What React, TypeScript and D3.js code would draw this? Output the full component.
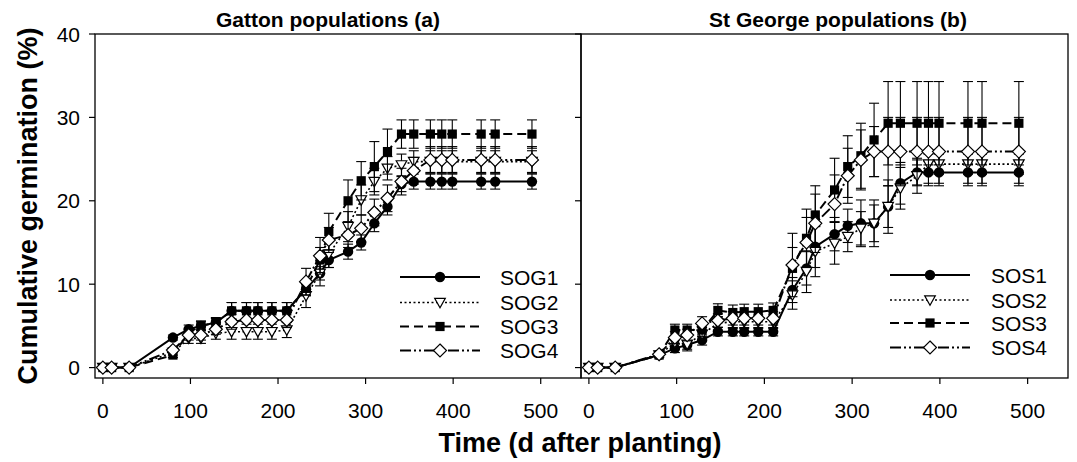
import React from "react";
import * as d3 from "d3";

// Days after planting (shared sampling times)
const times = [0, 10, 30, 80, 98, 112, 129, 147, 164, 177, 193, 210, 232, 248, 258, 280, 295, 310, 325, 341, 355, 374, 387, 399, 432, 448, 490];

// Gatton populations (a)
const SOG1 = [0, 0, 0, 3.6, 4.6, 5.0, 5.4, 6.8, 6.8, 6.8, 6.8, 6.8, 9.4, 11.3, 12.9, 13.9, 15.0, 17.3, 19.3, 22.0, 22.3, 22.3, 22.3, 22.3, 22.3, 22.3, 22.3];
const SOG2 = [0, 0, 0, 1.8, 3.5, 3.5, 4.1, 4.3, 4.3, 4.3, 4.3, 4.5, 8.6, 11.3, 13.6, 16.9, 20.1, 22.3, 23.9, 24.3, 24.7, 24.7, 24.7, 24.7, 24.7, 24.7, 24.7];
const SOG3 = [0, 0, 0, 1.5, 4.2, 5.0, 5.4, 6.8, 6.8, 6.8, 6.8, 6.8, 9.5, 12.9, 16.3, 20.0, 22.4, 24.1, 25.9, 28.0, 28.0, 28.0, 28.0, 28.0, 28.0, 28.0, 28.0];
const SOG4 = [0, 0, 0, 2.1, 3.9, 3.9, 4.6, 5.5, 5.7, 5.7, 5.7, 5.7, 10.3, 13.4, 15.3, 15.9, 16.7, 18.6, 20.3, 22.3, 23.6, 24.9, 24.9, 24.9, 24.9, 24.9, 24.9];
const SOG1err = [0, 0, 0, 0.3, 0.5, 0.5, 0.5, 1.0, 1.0, 1.0, 1.0, 1.0, 0.8, 0.8, 0.9, 0.9, 0.9, 1.0, 1.0, 0.9, 0.9, 0.9, 0.9, 0.9, 0.9, 0.9, 0.9];
const SOG2err = [0, 0, 0, 0.3, 0.6, 0.6, 0.7, 0.9, 0.9, 0.9, 0.9, 0.9, 1.4, 1.5, 1.6, 1.8, 1.8, 1.6, 1.4, 1.3, 1.3, 1.3, 1.3, 1.3, 1.3, 1.3, 1.3];
const SOG3err = [0, 0, 0, 0.3, 0.5, 0.6, 0.6, 1.0, 1.0, 1.0, 1.0, 1.0, 0.8, 1.5, 2.2, 2.5, 2.3, 3.0, 2.7, 1.7, 1.7, 1.7, 1.7, 1.7, 1.7, 1.7, 1.7];
const SOG4err = [0, 0, 0, 0.3, 0.6, 0.6, 0.6, 0.9, 0.9, 0.9, 0.9, 0.9, 1.6, 2.2, 1.5, 1.5, 1.6, 1.6, 1.6, 1.6, 1.6, 1.6, 1.6, 1.6, 1.6, 1.6, 1.6];

// St George populations (b)
const SOS1 = [0, 0, 0, 1.5, 2.3, 2.7, 3.3, 4.3, 4.3, 4.3, 4.3, 4.3, 9.3, 11.9, 14.5, 16.0, 17.0, 17.3, 17.3, 19.3, 22.1, 23.4, 23.4, 23.4, 23.4, 23.4, 23.4];
const SOS2 = [0, 0, 0, 1.5, 3.0, 2.8, 4.0, 5.3, 5.5, 5.5, 5.5, 5.5, 8.7, 11.5, 13.9, 14.9, 15.7, 16.7, 17.3, 19.3, 21.5, 23.0, 24.4, 24.4, 24.4, 24.4, 24.4];
const SOS3 = [0, 0, 0, 1.5, 4.5, 4.5, 4.5, 6.85, 6.6, 6.7, 6.7, 6.85, 11.9, 15.5, 18.3, 21.3, 24.1, 25.4, 27.3, 29.3, 29.3, 29.3, 29.3, 29.3, 29.3, 29.3, 29.3];
const SOS4 = [0, 0, 0, 1.6, 3.6, 3.9, 5.3, 5.65, 5.9, 5.9, 5.9, 5.9, 12.3, 15.0, 17.3, 19.6, 23.0, 24.9, 25.9, 25.9, 25.9, 25.9, 25.9, 25.9, 25.9, 25.9, 25.9];
const SOS1err = [0, 0, 0, 0.3, 0.5, 0.5, 0.6, 0.5, 0.5, 0.5, 0.5, 0.5, 1.5, 2.0, 2.5, 2.0, 2.0, 2.8, 2.8, 3.2, 2.5, 1.5, 1.3, 1.3, 1.3, 1.3, 1.3];
const SOS2err = [0, 0, 0, 0.3, 0.8, 0.8, 0.8, 0.8, 0.8, 0.8, 0.8, 0.8, 1.7, 2.5, 3.0, 2.5, 1.8, 2.0, 2.2, 2.5, 2.5, 2.1, 1.2, 1.2, 1.2, 1.2, 1.2];
const SOS3err = [0, 0, 0, 0.3, 0.7, 0.7, 0.8, 0.8, 0.9, 0.9, 0.9, 0.9, 2.5, 3.5, 3.5, 3.8, 3.7, 3.9, 4.4, 5.0, 5.0, 5.0, 5.0, 5.0, 5.0, 5.0, 5.0];
const SOS4err = [0, 0, 0, 0.3, 0.7, 0.7, 0.8, 0.8, 0.8, 0.8, 0.8, 0.8, 3.8, 3.0, 3.5, 3.5, 3.3, 3.6, 3.0, 4.1, 4.1, 4.1, 4.1, 4.1, 4.1, 4.1, 4.1];

const panelTitles = ["Gatton populations (a)", "St George populations (b)"];
const gattonNames = ["SOG1", "SOG2", "SOG3", "SOG4"];
const stGeorgeNames = ["SOS1", "SOS2", "SOS3", "SOS4"];
const xTicks = [0, 100, 200, 300, 400, 500];
const yTicks = [0, 10, 20, 30, 40];
const xLabel = "Time (d after planting)";
const yLabel = "Cumulative germination (%)";

const styles = [
  { marker: "circle", dash: "none", width: 2 },
  { marker: "triangle", dash: "2,2.5", width: 1.6 },
  { marker: "square", dash: "9,5", width: 2 },
  { marker: "diamond", dash: "11,3,2,3,2,3", width: 2 },
];

const panels = [
  {
    title: panelTitles[0], left: 95, right: 581, titleX: 328,
    names: gattonNames, values: [SOG1, SOG2, SOG3, SOG4], errs: [SOG1err, SOG2err, SOG3err, SOG4err],
    legend: { x0: 400, x1: 480, textX: 500, rows: [277, 302.5, 326.5, 350.5] },
  },
  {
    title: panelTitles[1], left: 581, right: 1068, titleX: 838,
    names: stGeorgeNames, values: [SOS1, SOS2, SOS3, SOS4], errs: [SOS1err, SOS2err, SOS3err, SOS4err],
    legend: { x0: 890, x1: 970, textX: 991, rows: [275, 300, 323, 347.5] },
  },
];

const TOP = 34, BOTTOM = 378;
const FONT = "Arial, 'Liberation Sans', Helvetica, sans-serif";

function Marker({ kind, x, y }: { kind: string; x: number; y: number }) {
  if (kind === "circle") return <circle cx={x} cy={y} r={5.2} fill="#000" />;
  if (kind === "square") return <rect x={x - 4.6} y={y - 4.6} width={9.2} height={9.2} fill="#000" />;
  if (kind === "triangle")
    return <polygon points={`${x - 5.3},${y - 4.2} ${x + 5.3},${y - 4.2} ${x},${y + 5.2}`} fill="#fff" stroke="#000" strokeWidth={1.2} />;
  return <polygon points={`${x},${y - 6.5} ${x + 6.5},${y} ${x},${y + 6.5} ${x - 6.5},${y}`} fill="#fff" stroke="#000" strokeWidth={1.2} />;
}

function Panel({ p }: { p: (typeof panels)[number] }) {
  const x = d3.scaleLinear().domain([-9, 546]).range([p.left, p.right]);
  const y = d3.scaleLinear().domain([-1.25, 40]).range([BOTTOM, TOP]);
  const line = d3.line<number>().x((_, i) => x(times[i])).y((v) => y(v));
  return (
    <g>
      {p.values.map((vals, si) => {
        const st = styles[si];
        const errs = p.errs[si];
        return (
          <g key={si}>
            {vals.map((v, i) =>
              errs[i] > 0 ? (
                <g key={i} stroke="#000" strokeWidth={1.1}>
                  <line x1={x(times[i])} x2={x(times[i])} y1={y(v - errs[i])} y2={y(v + errs[i])} />
                  <line x1={x(times[i]) - 5} x2={x(times[i]) + 5} y1={y(v - errs[i])} y2={y(v - errs[i])} />
                  <line x1={x(times[i]) - 5} x2={x(times[i]) + 5} y1={y(v + errs[i])} y2={y(v + errs[i])} />
                </g>
              ) : null
            )}
            <path d={line(vals) || ""} fill="none" stroke="#000" strokeWidth={st.width} strokeDasharray={st.dash} />
            {vals.map((v, i) => (
              <Marker key={i} kind={st.marker} x={x(times[i])} y={y(v)} />
            ))}
          </g>
        );
      })}
      {/* frame */}
      <rect x={p.left} y={TOP} width={p.right - p.left} height={BOTTOM - TOP} fill="none" stroke="#000" strokeWidth={1.3} />
      {/* x ticks */}
      {xTicks.map((t) => (
        <g key={t}>
          <line x1={x(t)} x2={x(t)} y1={BOTTOM} y2={BOTTOM + 6} stroke="#000" strokeWidth={1.2} />
          <text x={x(t)} y={BOTTOM + 40} textAnchor="middle" fontSize={21} fontFamily={FONT}>{t}</text>
        </g>
      ))}
      {/* y ticks */}
      {yTicks.map((t) => (
        <line key={t} x1={p.left - 6} x2={p.left} y1={y(t)} y2={y(t)} stroke="#000" strokeWidth={1.2} />
      ))}
      {/* title */}
      <text x={p.titleX} y={27} textAnchor="middle" fontSize={21} fontWeight="bold" fontFamily={FONT}>{p.title}</text>
      {/* legend */}
      {p.names.map((name, si) => {
        const st = styles[si];
        const ry = p.legend.rows[si];
        const mx = (p.legend.x0 + p.legend.x1) / 2;
        return (
          <g key={name}>
            <line x1={p.legend.x0} x2={p.legend.x1} y1={ry} y2={ry} stroke="#000" strokeWidth={st.width} strokeDasharray={st.dash} />
            <Marker kind={st.marker} x={mx} y={ry} />
            <text x={p.legend.textX} y={ry + 7.5} fontSize={21} fontFamily={FONT}>{name}</text>
          </g>
        );
      })}
    </g>
  );
}

export default function App() {
  const y = d3.scaleLinear().domain([-1.25, 40]).range([BOTTOM, TOP]);
  return (
    <svg width={1077} height={462} style={{ position: "absolute", left: 0, top: 0, background: "#fff" }}>
      <rect width={1077} height={462} fill="#fff" />
      {panels.map((p, i) => (
        <Panel key={i} p={p} />
      ))}
      {yTicks.map((t) => (
        <text key={t} x={80} y={y(t) + 7.5} textAnchor="end" fontSize={21} fontFamily={FONT}>{t}</text>
      ))}
      <text x={580} y={452} textAnchor="middle" fontSize={27} fontWeight="bold" fontFamily={FONT}>{xLabel}</text>
      <text transform={`translate(37,${(TOP + BOTTOM) / 2}) rotate(-90)`} textAnchor="middle" fontSize={27} fontWeight="bold" fontFamily={FONT}>{yLabel}</text>
    </svg>
  );
}
